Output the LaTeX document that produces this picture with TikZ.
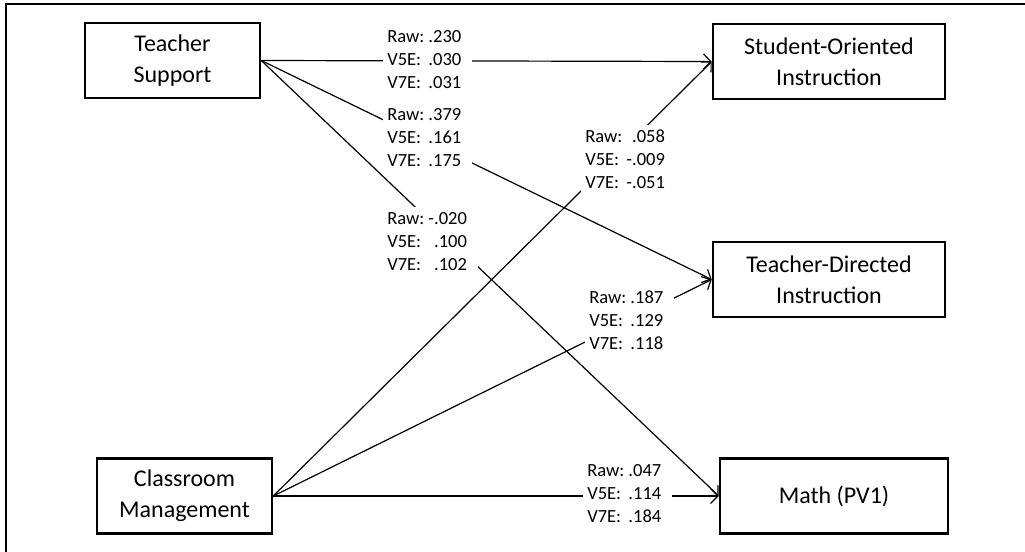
\documentclass[tikz,border=0pt]{standalone}
\usepackage{fontspec}
\setmainfont{Carlito}
\usetikzlibrary{arrows.meta}
\newcommand{\coeftab}[3]{\begin{tabular}{@{}l@{\ }r@{\hspace{5pt}}}Raw:&#1\\V5E:&#2\\V7E:&#3\end{tabular}}
\begin{document}
\begin{tikzpicture}[x=0.75pt,y=-0.75pt,
  box/.style={draw, line width=1.9pt, minimum height=56.25pt, inner sep=0pt, align=center, font=\fontsize{18}{23}\selectfont},
  conn/.style={line width=0.9pt, -{Straight Barb[length=5.5pt,width=11pt,line width=0.9pt]}},
  coef/.style={fill=white, anchor=west, inner xsep=3pt, inner ysep=1pt, font=\fontsize{13.9}{17.25}\selectfont},
  frame/.style={line width=1.5pt}]
\useasboundingbox (0,0) rectangle (1025,551);
\draw[frame] (5.5,560) -- (5.5,3.5) -- (1030,3.5);
% boxes
\node[box, minimum width=131.25pt] (ts) at (172.5,60.5) {Teacher\\Support};
\node[box, minimum width=174pt] (so) at (829,61.5) {Student-Oriented\\Instruction};
\node[box, minimum width=174pt] (td) at (829,279.5) {Teacher-Directed\\Instruction};
\node[box, minimum width=131.25pt] (cm) at (184.5,496) {Classroom\\Management};
\node[box, minimum width=171pt] (m) at (834,496) {Math (PV1)};
% connectors
\draw[conn] (ts.east) -- (so.west);
\draw[conn] (ts.east) -- (td.west);
\draw[conn] (ts.east) -- (m.west);
\draw[conn] (cm.east) -- (so.west);
\draw[conn] (cm.east) -- (td.west);
\draw[conn] (cm.east) -- (m.west);
% coefficient labels
\node[coef] (l1) at (383,61) {\coeftab{.230}{.030}{.031}};
\node[coef] (l2) at (383,139) {\coeftab{.379}{.161}{.175}};
\node[coef] (l3) at (383,243) {\coeftab{-.020}{.100}{.102}};
\node[coef] (l4) at (581,161) {\coeftab{.058}{-.009}{-.051}};
\node[coef] (l5) at (585,322) {\coeftab{.187}{.129}{.118}};
\node[coef] (l6) at (583,495) {\coeftab{.047}{.114}{.184}};
\end{tikzpicture}
\end{document}
